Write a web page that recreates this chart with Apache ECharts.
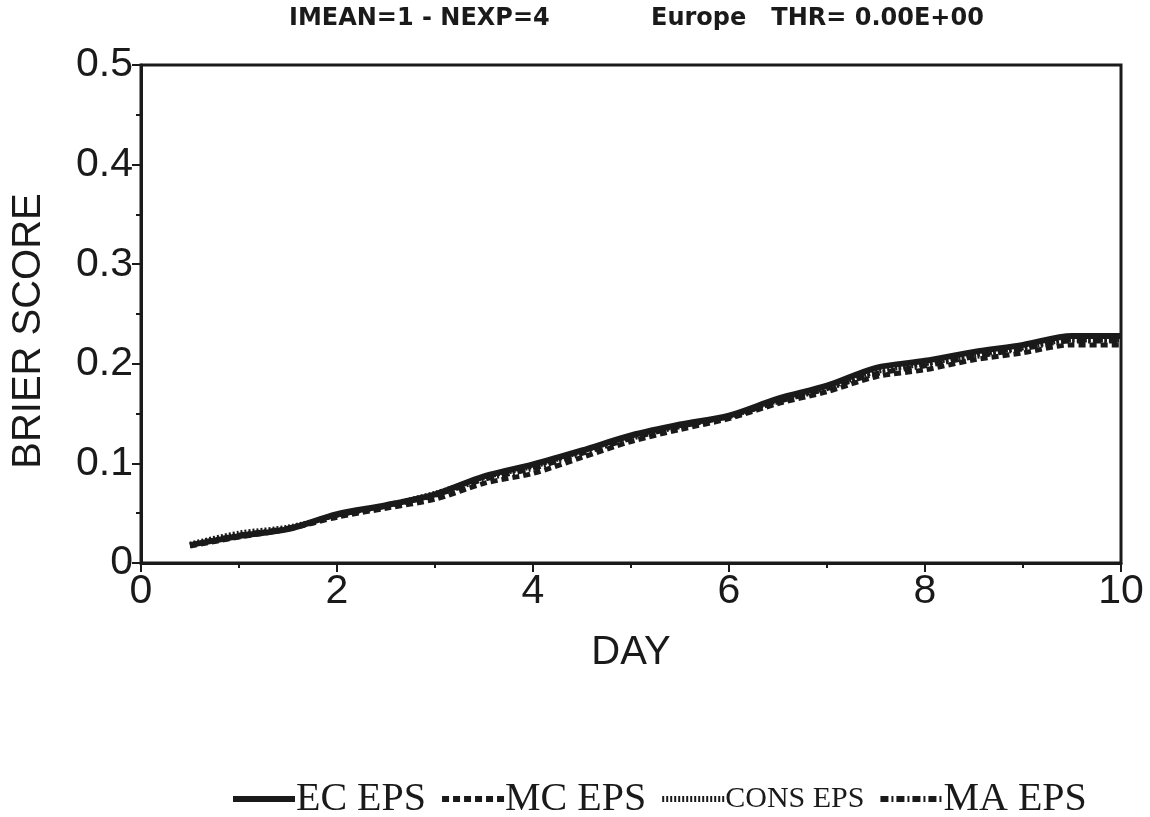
<!DOCTYPE html>
<html>
<head>
<meta charset="utf-8">
<script src="https://cdn.jsdelivr.net/npm/echarts@6/dist/echarts.min.js"></script>
<style>html,body{margin:0;padding:0;background:#fff}#c{width:1150px;height:817px}</style>
</head>
<body>
<div id="c"></div>
<script>
const days = [0.5,1,1.5,2,2.5,3,3.5,4,4.5,5,5.5,6,6.5,7,7.5,8,8.5,9,9.5,10];
const ecEps   = [0.018,0.027,0.034,0.049,0.058,0.069,0.087,0.099,0.113,0.128,0.139,0.148,0.165,0.178,0.196,0.203,0.212,0.219,0.228,0.228];
const mcEps   = [0.017,0.026,0.034,0.046,0.055,0.064,0.080,0.090,0.106,0.122,0.134,0.145,0.160,0.172,0.187,0.194,0.204,0.211,0.219,0.219];
const consEps = [0.019,0.030,0.036,0.048,0.058,0.070,0.086,0.097,0.112,0.127,0.138,0.147,0.163,0.176,0.192,0.200,0.209,0.216,0.224,0.224];
const maEps   = [0.018,0.028,0.035,0.048,0.057,0.068,0.084,0.095,0.110,0.125,0.137,0.147,0.162,0.175,0.190,0.198,0.207,0.215,0.223,0.223];
const seriesNames = ['EC EPS','MC EPS','CONS EPS','MA EPS'];
const titleLeft = 'IMEAN=1 - NEXP=4';
const titleRight = 'Europe   THR= 0.00E+00';
const yAxisTitle = 'BRIER SCORE';
const xAxisTitle = 'DAY';

const pair = arr => days.map((d,i)=>[d,arr[i]]);
const ink = '#1a1a1a';
const sans = '"Liberation Sans", Arial, Helvetica, sans-serif';
const styles = [
  {type:'solid', width:6},
  {type:[7,4], width:5},
  {type:[2,2], width:5},
  {type:[8,3,2,3], width:5}
];
const vals = [ecEps, mcEps, consEps, maEps];

const chart = echarts.init(document.getElementById('c'));
chart.setOption({
  backgroundColor:'#fff',
  animation:false,
  graphic:[
    {type:'text', left:289, top:7, style:{text:titleLeft, font:'bold 24px "DejaVu Sans", sans-serif', fill:ink}},
    {type:'text', left:651, top:7, style:{text:titleRight, font:'bold 24px "DejaVu Sans", sans-serif', fill:ink}},
    {type:'text', x:29, y:331, rotation:Math.PI/2,
      style:{text:yAxisTitle, font:'40px "Liberation Sans", Arial, sans-serif', fill:ink, align:'center', verticalAlign:'middle'}}
  ],
  grid:{left:141, right:29, top:65, bottom:254, show:true, borderColor:ink, borderWidth:3, backgroundColor:'transparent'},
  legend:{
    top:774, left:225, itemWidth:62, itemHeight:16, itemGap:13,
    itemStyle:{color:'transparent', borderWidth:0, opacity:0},
    data: seriesNames.map((n,i)=>({
      name:n,
      textStyle:{fontSize: i===2 ? 30 : 40},
      lineStyle:{width:6, type:styles[i].type, color:ink}
    })),
    textStyle:{fontFamily:'"Liberation Serif", "Times New Roman", serif', color:ink, fontSize:40, padding:[0,0,0,-4]}
  },
  xAxis:{
    type:'value', min:0, max:10, interval:2,
    name:xAxisTitle, nameLocation:'middle', nameGap:70,
    nameTextStyle:{fontSize:40, fontFamily:sans, color:ink},
    axisLine:{lineStyle:{color:ink, width:3}},
    axisTick:{inside:false, length:9, lineStyle:{color:ink, width:2}},
    minorTick:{show:true, splitNumber:2, length:5, lineStyle:{color:ink, width:2}},
    splitLine:{show:false},
    axisLabel:{fontSize:41, fontFamily:sans, color:ink, margin:8}
  },
  yAxis:{
    type:'value', min:0, max:0.5, interval:0.1,
    axisLine:{show:true, lineStyle:{color:ink, width:3}},
    axisTick:{show:true, inside:false, length:9, lineStyle:{color:ink, width:2}},
    minorTick:{show:true, splitNumber:2, length:5, lineStyle:{color:ink, width:2}},
    splitLine:{show:false},
    axisLabel:{fontSize:41, fontFamily:sans, color:ink, margin:8}
  },
  series: seriesNames.map((n,i)=>({
    name:n, type:'line', data:pair(vals[i]), symbol:'none', smooth:0.3,
    color:ink,
    lineStyle:{color:ink, width:styles[i].width, type:styles[i].type},
    z: 10-i
  }))
});
</script>
</body>
</html>
